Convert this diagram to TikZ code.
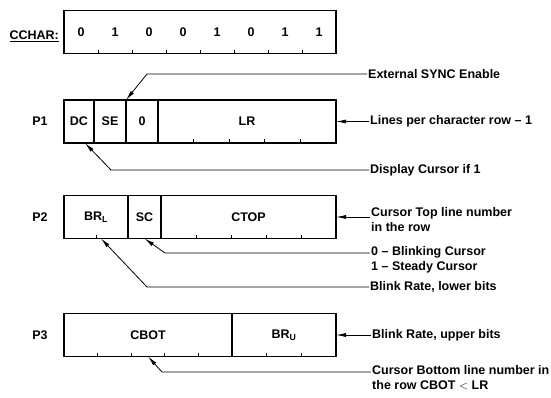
\documentclass[tikz,border=0pt]{standalone}
\usepackage{fontspec}
\setmainfont{Liberation Sans}
\usetikzlibrary{arrows.meta,positioning}

\begin{document}
\begin{tikzpicture}[
    x=1pt,y=-1pt,
    font=\bfseries\fontsize{12.5}{15}\selectfont,
    cell/.style={draw,line width=1.5pt,minimum height=43pt,inner sep=0pt,outer sep=0pt},
    bit/.style={inner sep=0pt},
    note/.style={inner sep=1pt,align=left},
    tick/.style={line width=1pt},
    arr/.style={-{Latex[length=10pt,width=4pt]},line width=0.8pt}
]
\useasboundingbox (0,0) rectangle (551,397);

\node[cell,minimum width=272pt,anchor=west] (cchar) at (64,32) {};
\node[anchor=east,inner sep=0pt] (ccharlbl) at (59,36) {\underline{CCHAR:}};
\foreach \b [count=\i] in {0,1,0,0,1,0,1,1}
    \node[bit] (b\i) at ({64+(\i-0.5)*34},32) {\b};
\foreach \x in {98,132,166,200,234,268,302}
    \draw[tick] (\x,53.5) -- ++(0,-4);

\node (lpone) at (40,121.5) {P1};
\node[cell,minimum width=30pt,anchor=west] (dc) at (64,121.5) {DC};
\node[cell,minimum width=32pt,right=0pt of dc] (se) {SE};
\node[cell,minimum width=32pt,right=0pt of se] (zero) {0};
\node[cell,minimum width=178pt,right=0pt of zero] (lr) {LR};
\foreach \x in {193.6,229.2,264.8,300.4}
    \draw[tick] (\x,143) -- ++(0,-4);

\node (lptwo) at (40,217) {P2};
\node[cell,minimum width=64pt,anchor=west] (brl) at (64,217) {BR\textsubscript{L}};
\node[cell,minimum width=33pt,right=0pt of brl] (sc) {SC};
\node[cell,minimum width=175pt,right=0pt of sc] (ctop) {CTOP};
\foreach \x in {96,196,231,266,301}
    \draw[tick] (\x,238.5) -- ++(0,-4);

\node (lpthree) at (40,335) {P3};
\node[cell,minimum width=168pt,anchor=west] (cbot) at (64,335) {CBOT};
\node[cell,minimum width=104pt,right=0pt of cbot] (bru) {BR\textsubscript{U}};
\foreach \x in {97.6,131.2,164.8,198.4,266.7,301.3}
    \draw[tick] (\x,356.5) -- ++(0,-4);

\node[note,anchor=west] (synctxt) at (367,74) {External SYNC Enable};
\node[note,anchor=west] (lprtxt) at (369,121.5) {Lines per character row -- 1};
\node[note,anchor=west] (dctxt) at (369,170) {Display Cursor if 1};
\node[note,anchor=north west] (ctoptxt) at (370,206) {Cursor Top line number\\in the row};
\node[note,anchor=north west] (sctxt) at (370,245) {0 -- Blinking Cursor\\1 -- Steady Cursor};
\node[note,anchor=west] (brltxt) at (369,287) {Blink Rate, lower bits};
\node[note,anchor=west] (brutxt) at (371,335) {Blink Rate, upper bits};
\node[note,anchor=north west] (cbottxt) at (371,364) {Cursor Bottom line number in\\the row CBOT $<$ LR};

\coordinate (syncbend) at (147,74);
\coordinate (dcbend) at (111,170);
\coordinate (scbend) at (165,253);
\coordinate (brlbend) at (147,287);
\coordinate (cbotbend) at (162,372);

\draw[arr] (synctxt.west) -- (syncbend) -- (se.north east);
\draw[arr] (lprtxt.west) -- (lr.east);
\draw[arr] (dctxt.west) -- (dcbend) -- ([xshift=6pt]dc.south);
\draw[arr] (ctoptxt.north west |- ctop.east) -- (ctop.east);
\draw[arr] (sctxt.north west |- scbend) -- (scbend) -- (sc.south);
\draw[arr] (brltxt.west) -- (brlbend) -- ([xshift=5pt]brl.south);
\draw[arr] (brutxt.west) -- (bru.east);
\draw[arr] (cbottxt.north west |- cbotbend) -- (cbotbend) -- (cbot.south);
\end{tikzpicture}
\end{document}
